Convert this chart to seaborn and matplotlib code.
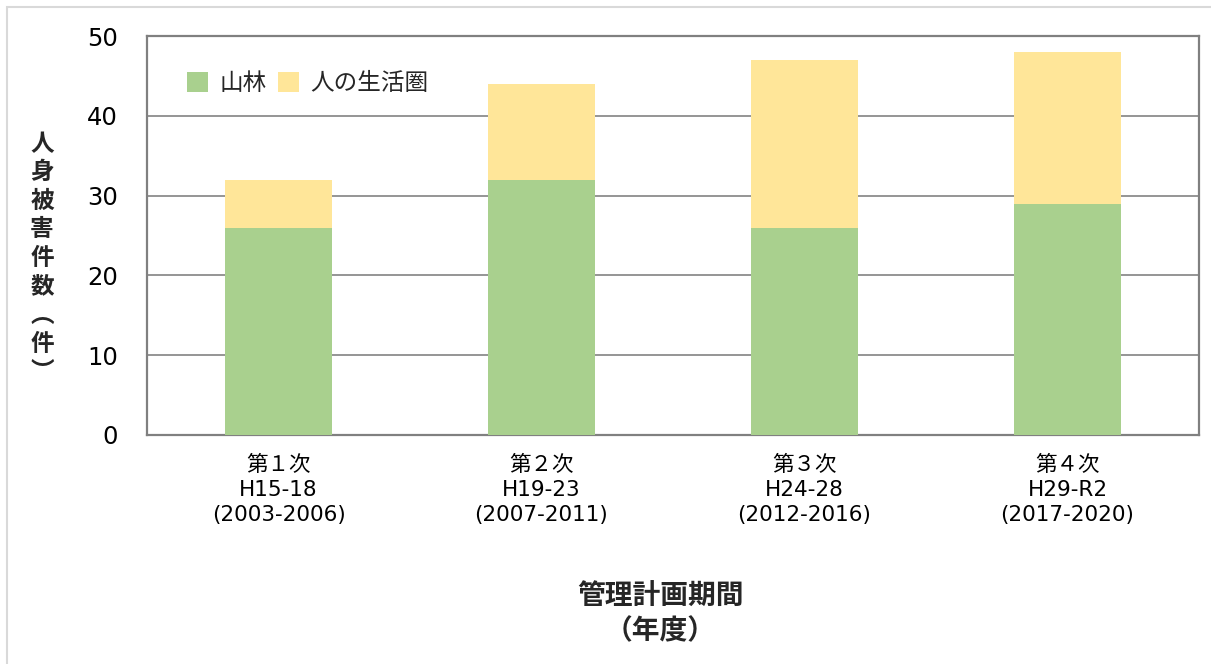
import matplotlib
matplotlib.use("Agg")
import matplotlib.pyplot as plt
import seaborn as sns
import pandas as pd
from matplotlib.patches import Rectangle

categories = ["第１次\nH15-18\n(2003-2006)", "第２次\nH19-23\n(2007-2011)",
              "第３次\nH24-28\n(2012-2016)", "第４次\nH29-R2\n(2017-2020)"]
forest = [26, 32, 26, 29]
living = [6, 12, 21, 19]
series_names = ["山林", "人の生活圏"]
colors = ["#A9D08E", "#FFE699"]

sns.set_theme(style="white")
plt.rcParams['font.family'] = ['DejaVu Sans', 'Noto Sans CJK JP']

df = pd.DataFrame({"cat": categories, "forest": forest, "living": living})
df["total"] = df["forest"] + df["living"]

fig = plt.figure(figsize=(12.11, 6.64), dpi=100)
ax = fig.add_axes([147/1211, 1 - 435/664, (1199-147)/1211, (435-36)/664])

sns.barplot(data=df, x="cat", y="total", color=colors[1], width=0.41,
            saturation=1, ax=ax, label=series_names[1], zorder=3, linewidth=0)
sns.barplot(data=df, x="cat", y="forest", color=colors[0], width=0.41,
            saturation=1, ax=ax, label=series_names[0], zorder=3, linewidth=0)

ax.set_ylim(0, 50)
ax.set_yticks([0, 10, 20, 30, 40, 50])
ax.yaxis.grid(True, color="#8c8c8c", linewidth=1.3, zorder=0)
ax.set_axisbelow(True)
for s in ax.spines.values():
    s.set_color("#808080")
    s.set_linewidth(1.6)
ax.tick_params(axis="y", labelsize=17.5, length=0, pad=21, colors="black")
ax.tick_params(axis="x", labelsize=15.5, length=0, pad=14, colors="black")
for lbl in ax.get_xticklabels():
    lbl.set_linespacing(1.32)
ax.set_xlabel("")
ax.set_ylabel("")

handles, labels = ax.get_legend_handles_labels()
order = [labels.index(n) for n in series_names]
ax.legend([handles[i] for i in order], [labels[i] for i in order],
          loc="upper left", bbox_to_anchor=(0.018, 0.965), frameon=False,
          ncol=2, fontsize=17, handlelength=0.9, handleheight=0.9,
          handletextpad=0.45, columnspacing=0.5)

fig.text(42/1211, 1 - 258/664, "\n".join(["人", "身", "被", "害", "件", "数", "︵", "件", "︶"]),
         ha="center", va="center", fontsize=17, fontweight="bold", linespacing=1.24,
         family=['Noto Sans CJK JP', 'DejaVu Sans'])
fig.text(660/1211, 1 - 614/664, "管理計画期間\n（年度）", ha="center", va="center",
         fontsize=20, fontweight="bold", linespacing=1.3,
         family=['Noto Sans CJK JP', 'DejaVu Sans'])

fig.patches.append(Rectangle((7/1211, -0.1), 1.2, 1 - 7/664 + 0.1, transform=fig.transFigure,
                             fill=False, edgecolor="#d9d9d9", linewidth=1.5))

fig.savefig("out.png", dpi=100)
